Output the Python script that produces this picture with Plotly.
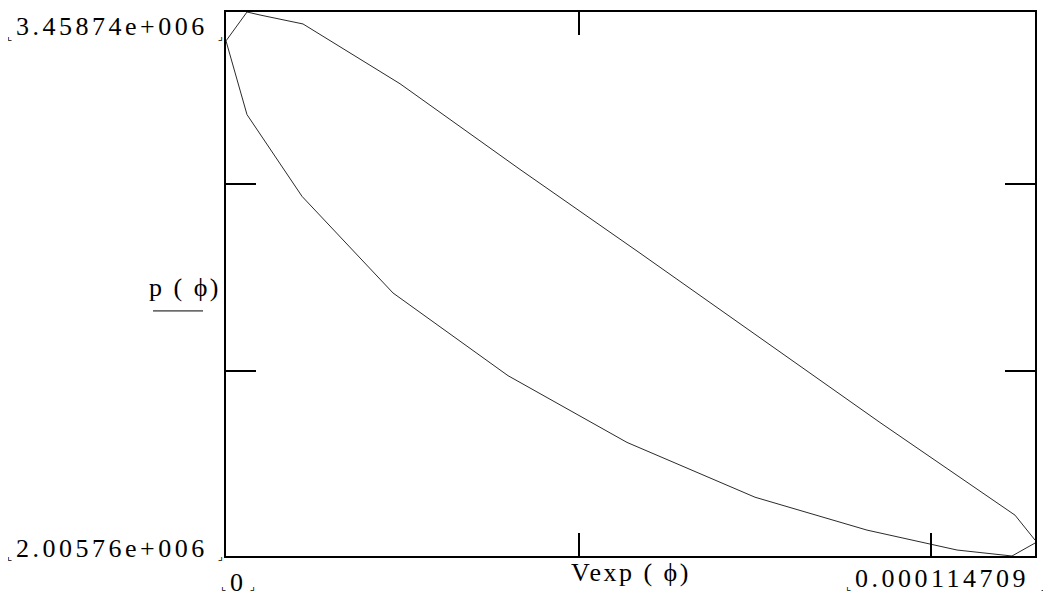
import plotly.graph_objects as go

# Axis limits (as printed on the chart)
x_min, x_max = 0.0, 0.000114709
y_min, y_max = 2.00576e6, 3.45874e6
x_labels = ["0", "0.000114709"]
y_labels = ["2.00576e+006", "3.45874e+006"]
x_title = "Vexp ( ϕ)"
y_title = "p ( ϕ)"

# Upper branch of the loop (compression)
upper_v = [0.0, 2.978e-6, 4.821e-6, 1.0918e-5, 2.4672e-5, 4.1687e-5, 5.8701e-5,
           7.5716e-5, 9.2731e-5, 1.11873e-4, 1.14709e-4]
upper_p = [3.38155e6, 3.45874e6, 3.45074e6, 3.42679e6, 3.26712e6, 3.03827e6, 2.81473e6,
           2.58854e6, 2.36235e6, 2.11487e6, 2.04834e6]

# Lower branch of the loop (expansion)
lower_v = [0.0, 2.978e-6, 1.0776e-5, 2.3679e-5, 3.9985e-5, 5.6858e-5, 7.5007e-5,
           9.0888e-5, 1.03649e-4, 1.11448e-4, 1.14709e-4]
lower_p = [3.38155e6, 3.18463e6, 2.96642e6, 2.70829e6, 2.48742e6, 2.30913e6, 2.16277e6,
           2.07495e6, 2.02173e6, 2.00576e6, 2.04035e6]

x_ticks = [5e-5, 1e-4]
y_ticks = [2.5e6, 3.0e6]

line_style = dict(color="#2a2a2a", width=1)
fig = go.Figure()
fig.add_trace(go.Scatter(x=upper_v, y=upper_p, mode="lines", line=line_style,
                         hoverinfo="skip", showlegend=False))
fig.add_trace(go.Scatter(x=lower_v, y=lower_p, mode="lines", line=line_style,
                         hoverinfo="skip", showlegend=False))

font = dict(family="Liberation Serif, Times New Roman, serif", size=26, color="black")
small = dict(family="DejaVu Sans, sans-serif", size=11, color="black")


def spaced(t, px=3.5):
    return f"<span style='letter-spacing:{px}px'>{t}</span>"


fig.update_layout(
    width=1051, height=605,
    margin=dict(l=218, r=24, t=2, b=57),
    paper_bgcolor="white", plot_bgcolor="white",
    xaxis=dict(range=[x_min, x_max], showgrid=False, zeroline=False,
               showline=True, linecolor="black", linewidth=2, mirror=True,
               tickvals=x_ticks, ticks="inside", ticklen=23, tickwidth=2,
               tickcolor="black", showticklabels=False),
    xaxis2=dict(range=[x_min, x_max], overlaying="x", side="top", showgrid=False,
                zeroline=False, showline=False, tickvals=x_ticks[:1], ticks="inside",
                ticklen=23, tickwidth=2, tickcolor="black", showticklabels=False),
    yaxis=dict(range=[y_min, y_max], showgrid=False, zeroline=False,
               showline=True, linecolor="black", linewidth=2, mirror="ticks",
               tickvals=y_ticks, ticks="inside", ticklen=30, tickwidth=2,
               tickcolor="black", showticklabels=False),
)
# invisible trace to activate the top axis
fig.add_trace(go.Scatter(x=[x_min], y=[y_min], xaxis="x2", mode="markers",
                         marker=dict(opacity=0), hoverinfo="skip", showlegend=False))

ann = []
# y range labels
ann.append(dict(x=x_min, y=y_max, xref="x", yref="y", text=spaced(y_labels[1]), font=font,
                showarrow=False, xanchor="right", yanchor="middle", xshift=-16, yshift=-14))
ann.append(dict(x=x_min, y=y_min, xref="x", yref="y", text=spaced(y_labels[0]), font=font,
                showarrow=False, xanchor="right", yanchor="middle", xshift=-16, yshift=8))
# x range labels
ann.append(dict(x=x_min, y=y_min, xref="x", yref="y", text=spaced(x_labels[0]), font=font,
                showarrow=False, xanchor="center", yanchor="middle", xshift=12, yshift=-26))
ann.append(dict(x=x_max, y=y_min, xref="x", yref="y", text=spaced(x_labels[1]), font=font,
                showarrow=False, xanchor="right", yanchor="middle", xshift=-4, yshift=-22))
# axis titles
ann.append(dict(x=0.5, y=0, xref="paper", yref="paper", text=spaced(x_title, 2.5), font=font,
                showarrow=False, xanchor="center", yanchor="middle", yshift=-16))
ann.append(dict(x=0, y=0.5, xref="paper", yref="paper", text=spaced(y_title, 2.5), font=font,
                showarrow=False, xanchor="center", yanchor="middle", xshift=-41, yshift=-3))
# small corner brackets (Mathcad placeholders)
for (xx, yy, t, xs, ys) in [
    (x_min, y_max, "⌞", -217, -24), (x_min, y_max, "⌟", -6, -24),
    (x_min, y_min, "⌞", -217, 0), (x_min, y_min, "⌟", -6, 0),
    (x_min, y_min, "⌞", -3, -30), (x_min, y_min, "⌟", 26, -30),
    (x_max, y_min, "⌞", -187, -30), (x_max, y_min, "⌟", 8, -30),
]:
    ann.append(dict(x=xx, y=yy, xref="x", yref="y", text=t, font=small, showarrow=False,
                    xanchor="center", yanchor="middle", xshift=xs, yshift=ys))
fig.update_layout(annotations=ann)

# trace-style underline under the y title
fig.add_shape(type="line", xref="paper", yref="paper", x0=-0.0902, x1=-0.0284,
              y0=0.4505, y1=0.4505, line=dict(color="black", width=1))

fig.write_html("out.html")
